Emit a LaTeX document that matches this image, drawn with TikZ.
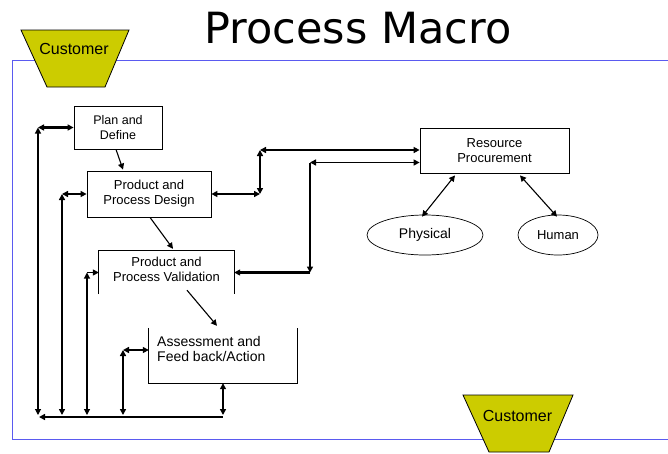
\documentclass[tikz,border=0pt]{standalone}
\usepackage{fontspec}
\setmainfont{Liberation Sans}
\newfontfamily\titlefont{DejaVu Sans}
\usetikzlibrary{arrows.meta,shapes.geometric}
\definecolor{custy}{HTML}{CCCC00}
\definecolor{frameblue}{HTML}{5A5AF0}
\begin{document}
\begin{tikzpicture}[x=1pt,y=-1pt,
  txt/.style={font=\fontsize{13}{15}\selectfont, align=center, inner sep=0pt},
  bigtxt/.style={font=\fontsize{14}{15.5}\selectfont, align=left, inner sep=0pt},
  boxnode/.style={draw, line width=0.8pt, rectangle, inner sep=0pt, txt},
  ellnode/.style={draw, line width=0.7pt, ellipse, inner sep=0pt, txt},
  custshape/.style={fill=custy, draw=black, line width=0.8pt},
  thk/.style={line width=2.2pt},
  thn/.style={line width=1.1pt},
  both/.style={{Triangle[length=6pt,width=6pt]}-{Triangle[length=6pt,width=6pt]}},
  fwd/.style={-{Triangle[length=6pt,width=6pt]}},
  bwd/.style={{Triangle[length=6pt,width=6pt]}-}
]
\useasboundingbox (0,0) rectangle (668,453);
\fill[white] (0,0) rectangle (668,453);

% title
\node[font=\titlefont\fontsize{43}{48}\selectfont, anchor=base, inner sep=0pt] (title) at (358,43) {Process Macro};

% blue frame
\draw[frameblue, line width=1.4pt] (668,60.5) -- (12.5,60.5) -- (12.5,439.5) -- (668,439.5);

% customer shapes
\draw[custshape] (21,30) -- (129,30) -- (105,87) -- (47,87) -- cycle;
\node[font=\fontsize{16}{18}\selectfont, inner sep=0pt] (cust1) at (74,49) {Customer};
\draw[custshape] (463,395) -- (573,395) -- (549,452) -- (489,452) -- cycle;
\node[font=\fontsize{16}{18}\selectfont, inner sep=0pt] (cust2) at (517.5,416) {Customer};

% boxes
\node[boxnode, font=\fontsize{12.5}{14.5}\selectfont, minimum width=88pt, minimum height=43pt] (plan) at (118,127.5) {Plan and\\Define};
\node[boxnode, minimum width=124pt, minimum height=46pt] (design) at (149,194) {Product and\\Process Design};
\node[txt, minimum width=135pt, minimum height=43pt] (val) at (166.5,272.5) {};
\node[txt] (valtxt) at (166.5,269.5) {Product and\\Process Validation};
\draw[line width=0.8pt] (val.south west) |- (val.north east) -- (val.south east);
\node[txt, minimum width=148pt, minimum height=55pt] (ass) at (223,355.5) {};
\node[bigtxt, anchor=west] (asstxt) at (157,349) {Assessment and\\Feed back/Action};
\draw[line width=0.8pt] (ass.north west) -- (ass.south west) -- (ass.south east) -- (ass.north east);
\node[boxnode, minimum width=149pt, minimum height=45pt] (res) at (494.5,150.5) {Resource\\Procurement};
\node[ellnode, font=\fontsize{14}{16}\selectfont, minimum width=116pt, minimum height=40pt] (phys) at (425,235) {Physical};
\node[ellnode, minimum width=80pt, minimum height=40pt] (hum) at (558,235) {Human};

% flow arrows
\draw[thn, fwd] ([xshift=-2pt]plan.south) -- ([xshift=-26pt,yshift=1pt]design.north);
\draw[thn, fwd] ([xshift=1pt]design.south) -- ([xshift=6.5pt,yshift=2pt]val.north);
\draw[thn, fwd] ([xshift=20.5pt,yshift=4pt]val.south) -- ([xshift=-6pt,yshift=2pt]ass.north);

% left bus
\coordinate (busL) at (39,417);
\coordinate (c1) at (38,127.5);
\coordinate (c2) at (62,194);
\coordinate (c3) at (87,272.5);
\coordinate (c4) at (123,350);
\draw[thk, bwd] (busL) -- (ass.south |- busL);
\draw[thk, both] (c1) -- (plan.west);
\draw[thn, both] (c1) -- ([yshift=2pt]c1 |- busL);
\draw[thk, both] (c2) -- (design.west);
\draw[thk, both] (c2) -- ([yshift=2pt]c2 |- busL);
\draw[line width=1.5pt, fwd] (c3) -- (val.west);
\draw[thn, both] (c3) -- ([yshift=2pt]c3 |- busL);
\draw[thk, both] (c4) -- ([yshift=5.5pt]ass.west);
\draw[thk, both] (c4) -- ([yshift=2pt]c4 |- busL);
\draw[thk, both] (ass.south) -- ([yshift=2pt]ass.south |- busL);

% right connections
\coordinate (r1) at (260,194);
\coordinate (r2) at (260,150);
\coordinate (r3) at (310,162.5);
\coordinate (r4) at (310,272.5);
\draw[thk, both] (design.east) -- (r1);
\draw[thk, both] (r1) -- (r2);
\draw[thk, both] (r2) -- (r2 -| res.west);
\draw[line width=1.4pt, both] (r3) -- (r3 -| res.west);
\draw[thk, fwd] (r3) -- (r4);
\draw[thk, fwd] (r4) -- (val.east);

% resource to ellipses
\draw[thn, both] ([xshift=-39.5pt,yshift=-2pt]res.south) -- ([xshift=-3pt,yshift=-2pt]phys.north);
\draw[thn, both] ([xshift=25.5pt,yshift=-2pt]res.south) -- ([xshift=-1pt,yshift=-2pt]hum.north);
\end{tikzpicture}
\end{document}
